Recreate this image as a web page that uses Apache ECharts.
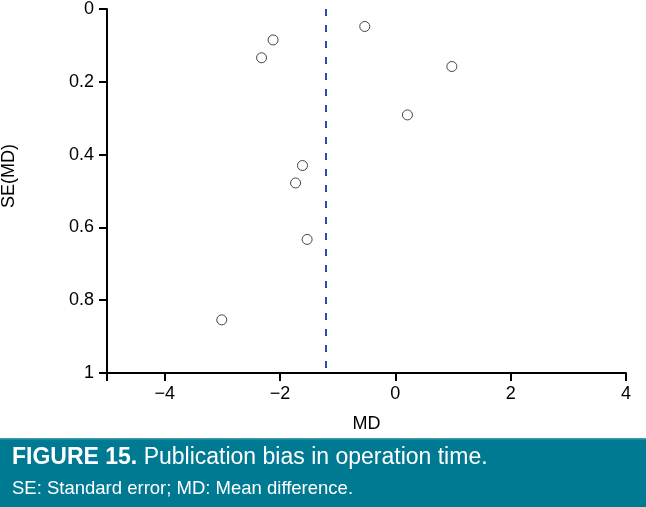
<!DOCTYPE html>
<html>
<head>
<meta charset="utf-8">
<script src="https://cdn.jsdelivr.net/npm/echarts@6/dist/echarts.min.js"></script>
<style>
html,body{margin:0;padding:0;background:#fff;}
#c{width:646px;height:507px;}
</style>
</head>
<body>
<div id="c"></div>
<script>
// Study-level data
var md = [-2.12, -2.32, -1.61, -1.73, -1.53, -3.01, -0.53, 0.98, 0.21];
var seMd = [0.085, 0.134, 0.430, 0.478, 0.633, 0.854, 0.048, 0.158, 0.291];
var pooledMd = -1.2;
var xTicks = [-5, -4, -2, 0, 2, 4];
var xTickLabels = [-4, -2, 0, 2, 4];
var xAxisTitle = 'MD';
var yAxisTitle = 'SE(MD)';
var captionBold = 'FIGURE 15.';
var captionText = ' Publication bias in operation time.';
var captionNote = 'SE: Standard error; MD: Mean difference.';

var points = md.map(function (v, i) { return [v, seMd[i]]; });
var FONT = 'Liberation Sans, Arial, sans-serif';

var chart = echarts.init(document.getElementById('c'));
chart.setOption({
  animation: false,
  backgroundColor: '#ffffff',
  grid: { left: 107, right: 20, top: 6, bottom: 134, containLabel: false },
  xAxis: {
    type: 'value', min: -5, max: 4, interval: 1,
    name: xAxisTitle, nameLocation: 'middle', nameGap: 42,
    nameTextStyle: { color: '#000', fontSize: 18, fontFamily: FONT },
    axisLine: { show: true, onZero: false, lineStyle: { color: '#000', width: 2 } },
    axisTick: { show: true, length: 8, customValues: xTicks, lineStyle: { color: '#000', width: 2 } },
    axisLabel: {
      customValues: xTickLabels, margin: 12, color: '#000', fontSize: 18, fontFamily: FONT,
      formatter: function (v) { return v < 0 ? '\u2212' + Math.abs(v) : String(v); }
    },
    splitLine: { show: false }
  },
  yAxis: {
    type: 'value', min: 0, max: 1, interval: 0.2, inverse: true,
    axisLine: { show: true, onZero: false, lineStyle: { color: '#000', width: 2 } },
    axisTick: { show: true, length: 8, lineStyle: { color: '#000', width: 2 } },
    axisLabel: { margin: 13, color: '#000', fontSize: 18, fontFamily: FONT },
    splitLine: { show: false }
  },
  graphic: [
    { type: 'text', x: 9, y: 176, rotation: Math.PI / 2,
      style: { text: yAxisTitle, fill: '#000', font: '18px ' + FONT, textAlign: 'center', textVerticalAlign: 'middle' } },
    { type: 'rect', shape: { x: 0, y: 438, width: 646, height: 69 }, style: { fill: '#007a93' } },
    { type: 'rect', shape: { x: 0, y: 438, width: 646, height: 1.5 }, style: { fill: '#3a9ab0' } },
    { type: 'text', x: 12, y: 458,
      style: { rich: { b: { fontWeight: 'bold', fontSize: 23, fontFamily: FONT, fill: '#fff' }, n: { fontSize: 23, fontFamily: FONT, fill: '#fff' } },
        text: '{b|' + captionBold + '}{n|' + captionText + '}', textVerticalAlign: 'middle' } },
    { type: 'text', x: 12, y: 489,
      style: { text: captionNote, fill: '#fff', font: '18.5px ' + FONT, textVerticalAlign: 'middle' } }
  ],
  series: [{
    type: 'scatter',
    data: points,
    symbol: 'circle', symbolSize: 10,
    itemStyle: { color: '#ffffff', borderColor: '#444', borderWidth: 1, opacity: 1 },
    markLine: {
      silent: true, symbol: ['none', 'none'], label: { show: false },
      lineStyle: { color: '#2f4ea3', width: 2, type: [7, 9] },
      data: [{ xAxis: pooledMd }]
    }
  }]
});
</script>
</body>
</html>
